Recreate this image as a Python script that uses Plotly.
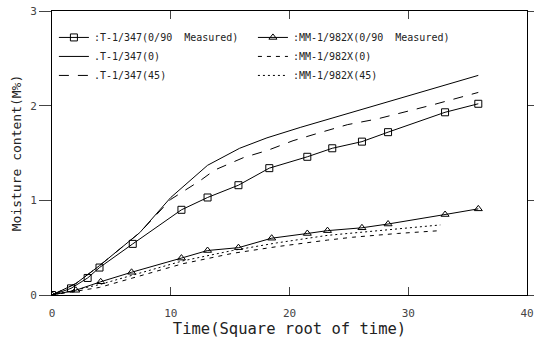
import plotly.graph_objects as go

# T-1/347 measured (0/90)
t_meas_x = [0, 1.6, 3.0, 4.0, 6.8, 10.9, 13.1, 15.7, 18.3, 21.5, 23.6, 26.1, 28.3, 33.1, 35.9]
t_meas_y = [0, 0.07, 0.18, 0.29, 0.54, 0.90, 1.03, 1.16, 1.34, 1.46, 1.55, 1.62, 1.72, 1.93, 2.02]

# MM-1/982X measured (0/90)
mm_meas_x = [0, 2.0, 4.1, 6.7, 10.9, 13.1, 15.7, 18.5, 21.5, 23.2, 26.1, 28.3, 33.1, 35.9]
mm_meas_y = [0, 0.05, 0.14, 0.24, 0.39, 0.47, 0.50, 0.60, 0.65, 0.68, 0.71, 0.75, 0.85, 0.91]

# T-1/347 (0) predicted
t0_x = [0, 2.0, 4.0, 7.4, 10.0, 13.1, 15.8, 18.1, 20.9, 28.7, 35.9]
t0_y = [0, 0.12, 0.31, 0.66, 1.03, 1.37, 1.55, 1.66, 1.77, 2.06, 2.32]

# T-1/347 (45) predicted
t45_x = [0, 2.0, 4.0, 7.4, 10.0, 12.5, 13.7, 16.1, 18.2, 20.3, 22.7, 24.9, 27.4, 29.7, 32.1, 35.9]
t45_y = [0, 0.12, 0.31, 0.66, 1.01, 1.21, 1.32, 1.45, 1.53, 1.63, 1.72, 1.80, 1.86, 1.93, 2.01, 2.14]

# MM-1/982X (0) predicted
mm0_x = [0, 4.0, 6.8, 11.0, 15.2, 18.9, 23.2, 25.3, 29.1, 32.7]
mm0_y = [0, 0.08, 0.18, 0.33, 0.44, 0.51, 0.58, 0.61, 0.65, 0.68]

# MM-1/982X (45) predicted
mm45_x = [0, 4.0, 6.8, 11.0, 15.2, 18.9, 23.2, 29.0, 32.7]
mm45_y = [0, 0.11, 0.21, 0.36, 0.47, 0.55, 0.63, 0.70, 0.74]

x_ticks = [0, 10, 20, 30, 40]
y_ticks = [0, 1, 2, 3]

FONT = "DejaVu Sans Mono"
LW = 1

fig = go.Figure()
fig.add_trace(go.Scatter(x=t_meas_x, y=t_meas_y, mode="lines+markers",
                         name=":T-1/347(0/90  Measured)", legend="legend", legendgroup="a",
                         line=dict(color="black", width=LW),
                         marker=dict(symbol="square-open", size=7, color="black", line=dict(width=1))))
fig.add_trace(go.Scatter(x=t0_x, y=t0_y, mode="lines", name=".T-1/347(0)",
                         legend="legend", legendgroup="b",
                         line=dict(color="black", width=LW)))
fig.add_trace(go.Scatter(x=t45_x, y=t45_y, mode="lines", name=".T-1/347(45)",
                         legend="legend", legendgroup="c",
                         line=dict(color="black", width=LW, dash="10px,9px")))
fig.add_trace(go.Scatter(x=mm_meas_x, y=mm_meas_y, mode="lines+markers",
                         name=":MM-1/982X(0/90  Measured)", legend="legend2", legendgroup="d",
                         line=dict(color="black", width=LW),
                         marker=dict(symbol="triangle-up-open", size=7, color="black", line=dict(width=1))))
fig.add_trace(go.Scatter(x=mm0_x, y=mm0_y, mode="lines", name=":MM-1/982X(0)",
                         legend="legend2", legendgroup="e",
                         line=dict(color="black", width=LW, dash="4px,5px")))
fig.add_trace(go.Scatter(x=mm45_x, y=mm45_y, mode="lines", name=":MM-1/982X(45)",
                         legend="legend2", legendgroup="f",
                         line=dict(color="black", width=LW, dash="2px,3px")))

leg_common = dict(orientation="v", yanchor="top", xanchor="left", tracegroupgap=6,
                  font=dict(family=FONT, size=10, color="#222"),
                  bgcolor="rgba(0,0,0,0)", traceorder="normal")

fig.update_layout(
    width=534, height=341,
    margin=dict(l=52, r=7, t=11, b=46),
    paper_bgcolor="white", plot_bgcolor="white",
    font=dict(family=FONT, size=11, color="#333"),
    showlegend=True,
    legend=dict(x=0.004, y=0.958, **leg_common),
    legend2=dict(x=0.423, y=0.958, **leg_common),
    xaxis=dict(range=[0, 40], tickvals=x_ticks, ticks="inside", ticklen=8,
               showline=True, linecolor="black", linewidth=1, mirror="ticks",
               showgrid=False, zeroline=False, automargin=False, ticklabelstandoff=8,
               title=dict(text="Time(Square root of time)", font=dict(family=FONT, size=15.5, color="#222"), standoff=2),
               tickfont=dict(size=11, color="#444")),
    yaxis=dict(range=[0, 3], tickvals=y_ticks, ticks="outside", ticklen=12,
               showline=True, linecolor="black", linewidth=1, mirror="ticks",
               showgrid=False, zeroline=False, automargin=False,
               title=dict(text="Moisture content(M%)", font=dict(family=FONT, size=13, color="#222"), standoff=5),
               tickfont=dict(size=11, color="#444")),
)

fig.write_html("out.html", config={"displayModeBar": False},
               post_script="document.body.style.margin='0';")
